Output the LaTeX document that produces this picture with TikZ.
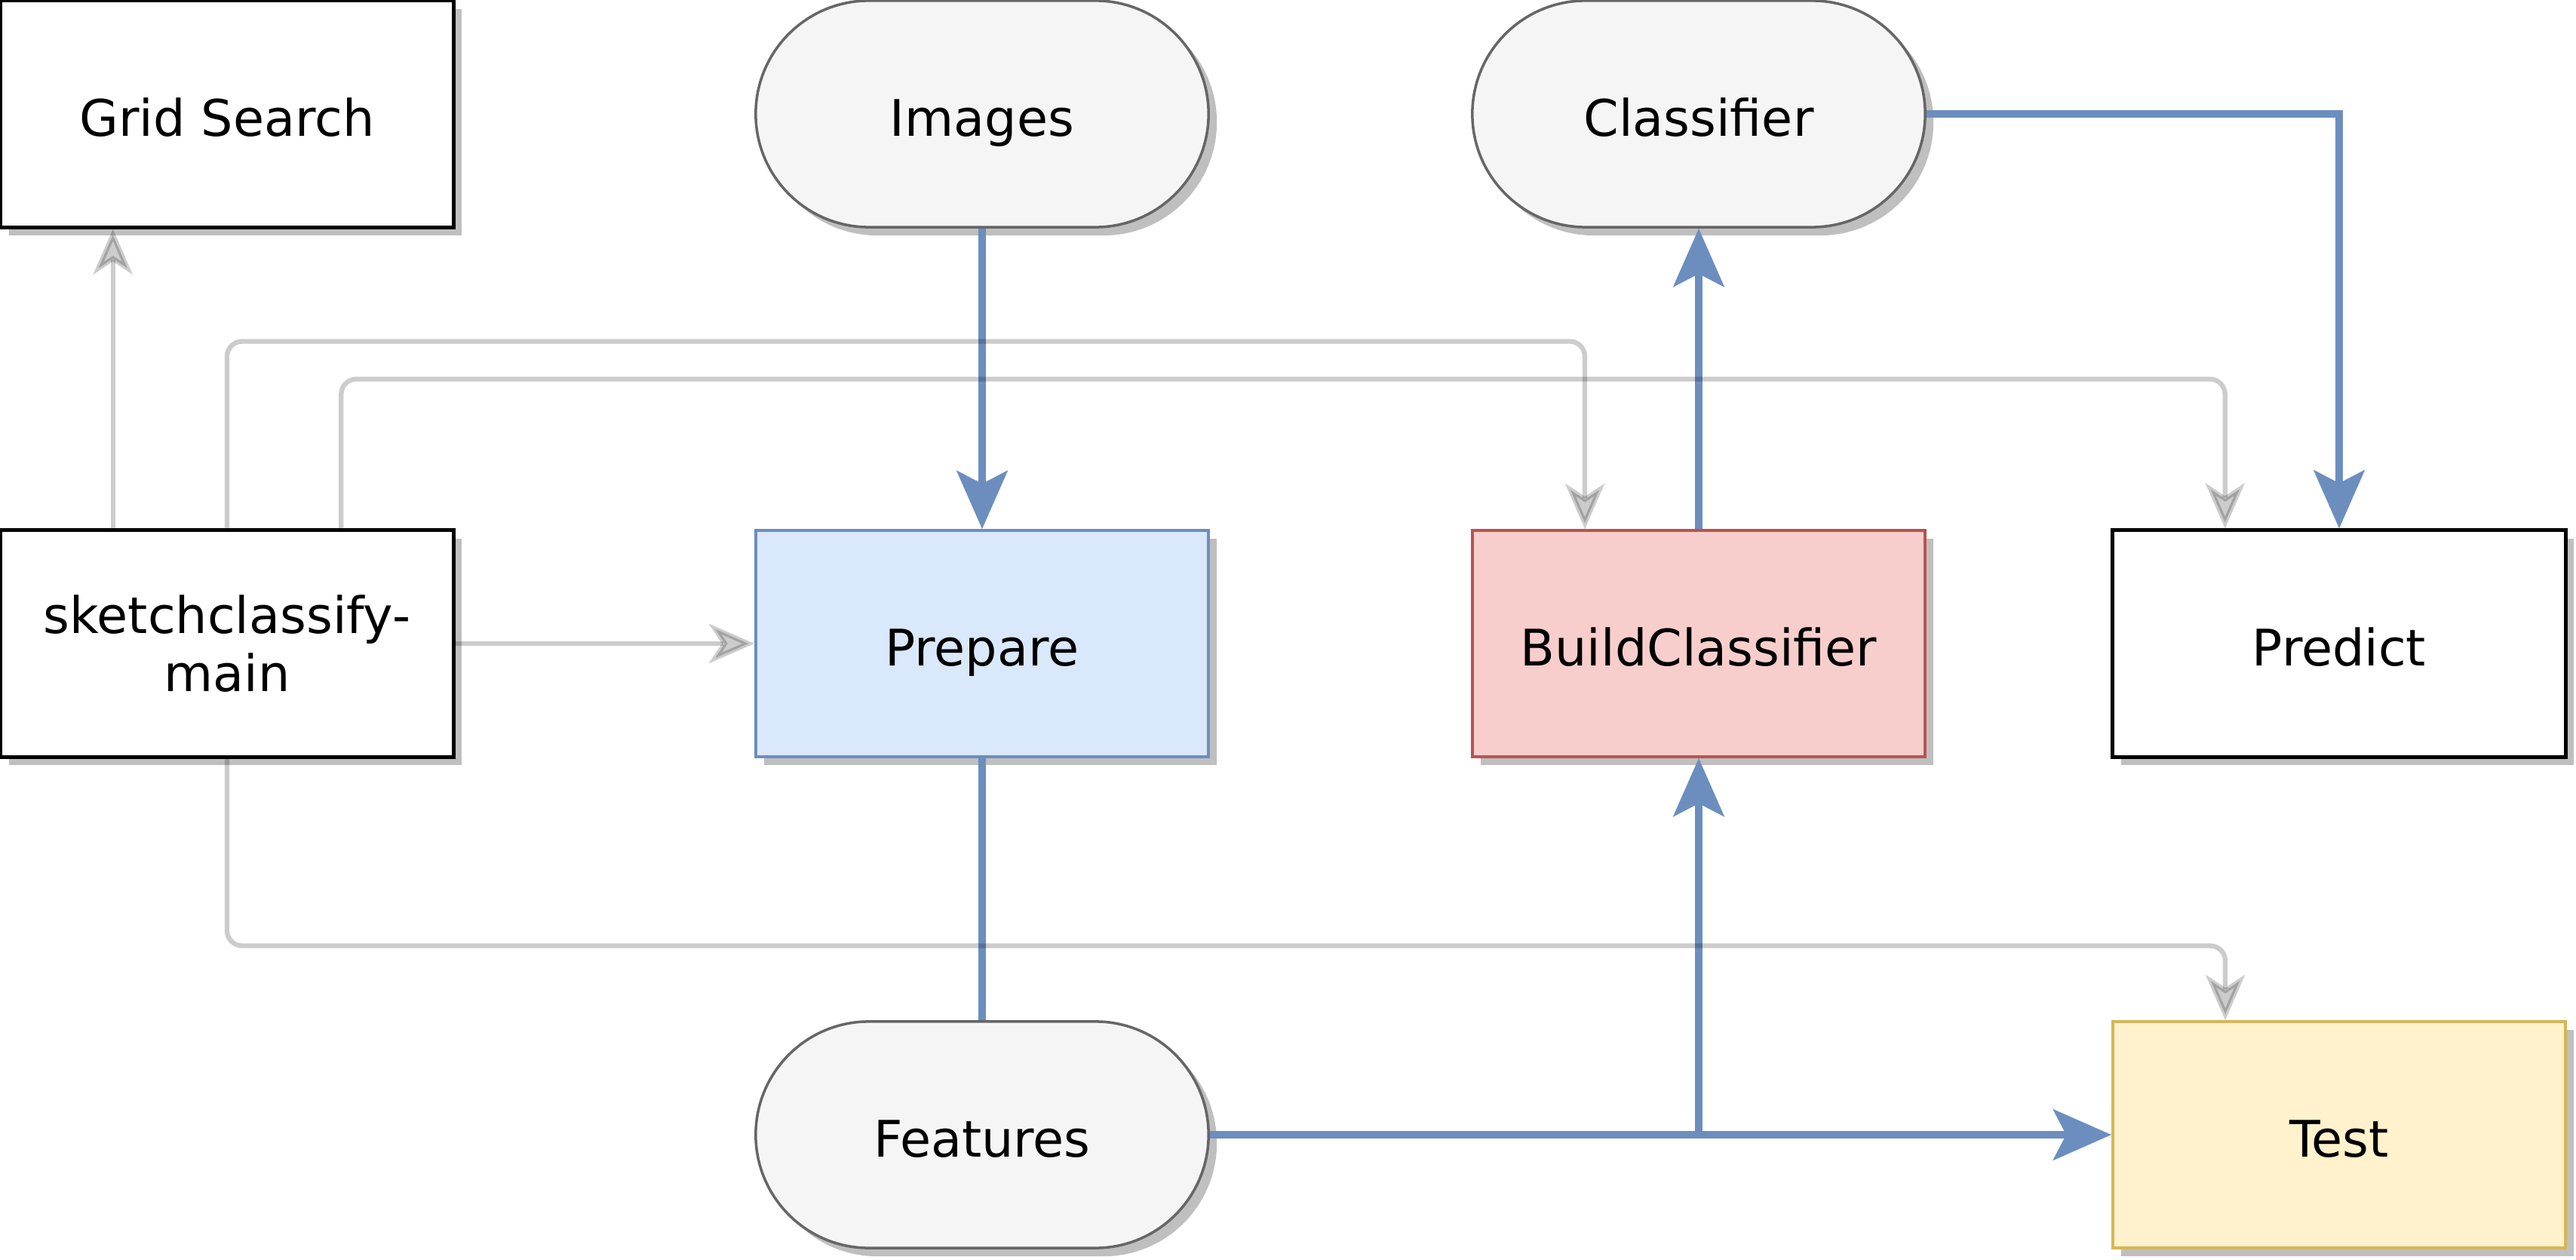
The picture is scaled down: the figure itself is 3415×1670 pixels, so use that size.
\documentclass[tikz,border=0pt]{standalone}
\usepackage{fontspec}
\setmainfont{DejaVu Sans}
\usetikzlibrary{arrows.meta,calc,shadows}
\definecolor{flowblue}{HTML}{6C8EBF}
\definecolor{prepfill}{HTML}{DAE8FC}
\definecolor{buildfill}{HTML}{F8CECC}
\definecolor{buildline}{HTML}{B85450}
\definecolor{testfill}{HTML}{FFF2CC}
\definecolor{testline}{HTML}{D6B656}
\definecolor{termfill}{HTML}{F5F5F5}
\definecolor{termline}{HTML}{666666}

\begin{document}
\begin{tikzpicture}[
  x=0.01cm, y=-0.01cm,
  box/.style={draw, line width=1.4pt, fill=white, minimum width=6cm, minimum height=3cm,
    inner sep=0pt, align=center, font=\fontsize{19}{22}\selectfont,
    drop shadow={shadow xshift=0.11cm, shadow yshift=-0.11cm, fill=black!25, opacity=1}},
  line1/.style={text height=20pt, text depth=3pt},
  term/.style={box, line1, draw=termline, fill=termfill, line width=1pt, rounded corners=1.5cm},
  link/.style={draw=black, opacity=0.2, line width=1.8pt, rounded corners=0.2cm,
    -{Stealth[length=0.6cm, width=0.52cm, inset=0.17cm]}},
  flow/.style={draw=flowblue, line width=2.8pt,
    -{Stealth[length=0.77cm, width=0.67cm, inset=0.17cm]}},
  flowline/.style={draw=flowblue, line width=2.8pt}
]
\useasboundingbox (0,0) rectangle (3415,1670);

% top row
\node[box, line1] (grid) at (301,151) {Grid Search};
\node[term] (img) at (1302,151) {Images};
\node[term] (cls) at (2252,151) {Classifier};
% middle row
\node[box] (main) at (301,853) {sketchclassify-\\main};
\node[box, line1, draw=flowblue, fill=prepfill, line width=1pt] (prep) at (1302,853) {Prepare};
\node[box, line1, draw=buildline, fill=buildfill, line width=1pt] (build) at (2252,853) {BuildClassifier};
\node[box, line1] (pred) at (3101,853) {Predict};
% bottom row
\node[term] (feat) at (1302,1504) {Features};
\node[box, line1, draw=testline, fill=testfill, line width=1pt] (test) at (3101,1504) {Test};

% data flow
\draw[flow] (img) -- (prep);
\draw[flowline] (prep) -- (feat);
\draw[flow] (feat) -- (test);
\coordinate (split) at (build |- feat);
\draw[flow] (split) -- (build);
\draw[flow] (build) -- (cls);
\draw[flow] (cls.east) -| (pred.north);

% calls from main
\coordinate (m1) at ($(main.north west)!0.25!(main.north east)$);
\coordinate (m3) at ($(main.north west)!0.75!(main.north east)$);
\coordinate (bq) at ($(build.north west)!0.25!(build.north east)$);
\coordinate (pq) at ($(pred.north west)!0.25!(pred.north east)$);
\coordinate (tq) at ($(test.north west)!0.25!(test.north east)$);
\draw[link] (m1) -- (m1 |- grid.south);
\draw[link] (main.north) -- ++(0,-248) -| (bq);
\draw[link] (m3) -- ++(0,-198) -| (pq);
\draw[link] (main) -- (prep);
\draw[link] (main.south) -- ++(0,248) -| (tq);
\end{tikzpicture}
\end{document}
